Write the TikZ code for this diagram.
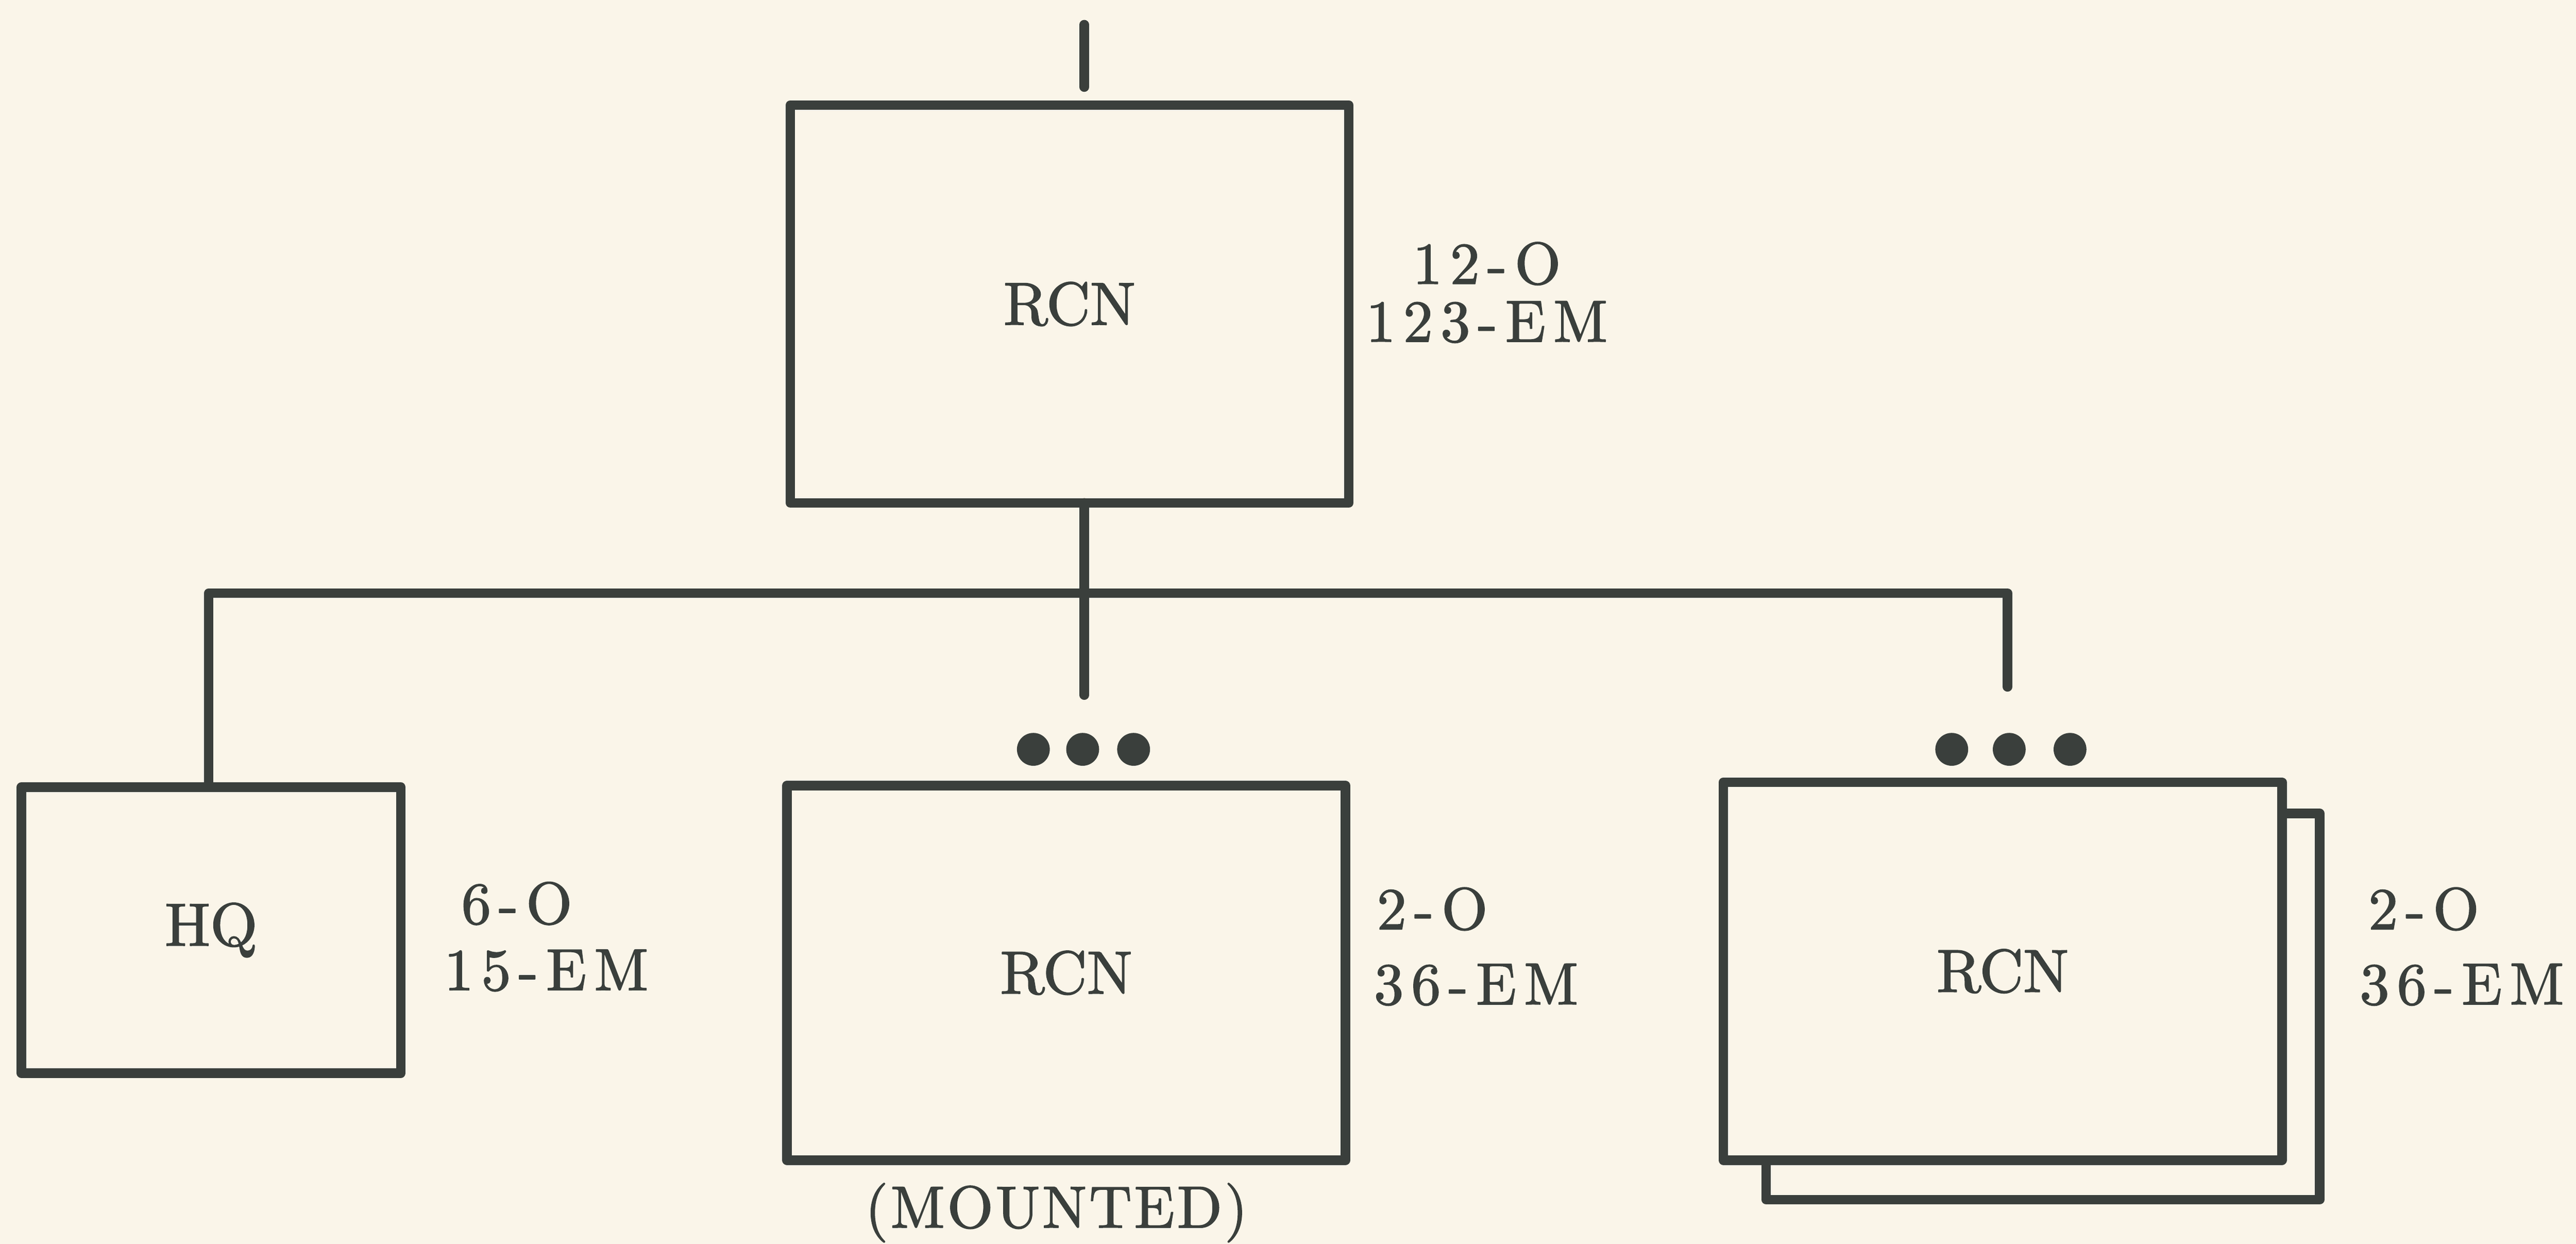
\documentclass[tikz,border=0pt]{standalone}
\usepackage{fontspec}
\usepackage{tikz}
\usetikzlibrary{calc}
\usetikzlibrary{positioning, backgrounds}

\newfontfamily\boxfont{lmroman10-regular.otf}[FakeBold=1.6]
\newfontfamily\typedfont{lmroman10-regular.otf}[FakeBold=1.6,LetterSpace=13]
\newfontfamily\mountfont{lmroman10-regular.otf}[FakeBold=1.6,LetterSpace=4]
\definecolor{paper}{RGB}{250,245,233}
\definecolor{ink}{RGB}{58,63,60}

\begin{document}
\begin{tikzpicture}[x=0.2mm,y=-0.2mm,-,line join=round,line cap=round,
                    link/.style={draw=ink,line width=3.3pt},
                    unit node/.style={rectangle,draw=ink,fill=paper,line width=3.3pt,inner sep=0pt,outer sep=0pt,text=ink,font=\boxfont\fontsize{21}{24}\selectfont},
                    count node/.style={anchor=west,align=left,inner sep=0pt,text=ink,font=\typedfont\fontsize{20.5}{26}\selectfont},
                    dot node/.style={circle,fill=ink,inner sep=0pt,minimum size=4mm}]
 \fill[paper] (0,0) rectangle (1568,757);

%Units
 \node[unit node,minimum width=68mm,minimum height=48.4mm] (TopUnit) at (651,185) {RCN};
 \node[unit node,minimum width=46.2mm,minimum height=34.8mm] (HQUnit) at (128.5,566) {HQ};
 \node[unit node,minimum width=68mm,minimum height=45.6mm] (MidUnit) at (649,592) {RCN};
 \node[unit node,minimum width=67.4mm,minimum height=47mm] (RightBack) at (1243.5,612.5) {};
 \node[unit node,minimum width=68mm,minimum height=46mm] (RightUnit) at (1219,591) {RCN};

%Dots over the repeated units
 \foreach \x/\n in {629/1,659/2,690/3}
    \node[dot node] (MidDot\n) at (\x,456) {};
 \foreach \x/\n in {1188/1,1223/2,1260/3}
    \node[dot node] (RightDot\n) at (\x,456) {};

%Lines
 \coordinate (StubTop) at (660,15);
 \coordinate (StubEnd) at (660,53);
 \coordinate (Bus) at (660,361);
 \coordinate (BusLeft) at (127,361);
 \coordinate (BusRight) at (1222,361);
 \coordinate (MidEnd) at (660,423);
 \coordinate (RightEnd) at (1222,418);

 \draw[link] (StubTop) -- (StubEnd);
 \draw[link] (TopUnit.south -| Bus) -- (MidEnd);
 \draw[link] (HQUnit.north -| BusLeft) -- (BusLeft) -- (BusRight) -- (RightEnd);

%Strengths
 \node[count node,anchor=center,align=center,font=\typedfont\fontsize{20.5}{20}\selectfont] (TopCount) at (905,178) {12-O\\123-EM};
 \node[count node,font=\typedfont\fontsize{20.5}{23}\selectfont] (HQCount) at (270,570) {\hspace*{6pt}6-O\\15-EM};
 \node[count node] (MidCount) at (836,576) {\hspace*{1pt}2-O\\36-EM};
 \node[count node] (RightCount) at (1436,576) {\hspace*{3pt}2-O\\36-EM};

 \node[inner sep=0pt,text=ink,font=\mountfont\fontsize{20.5}{24}\selectfont] (Mounted) at (643,738) {(MOUNTED)};

\end{tikzpicture}
\end{document}
